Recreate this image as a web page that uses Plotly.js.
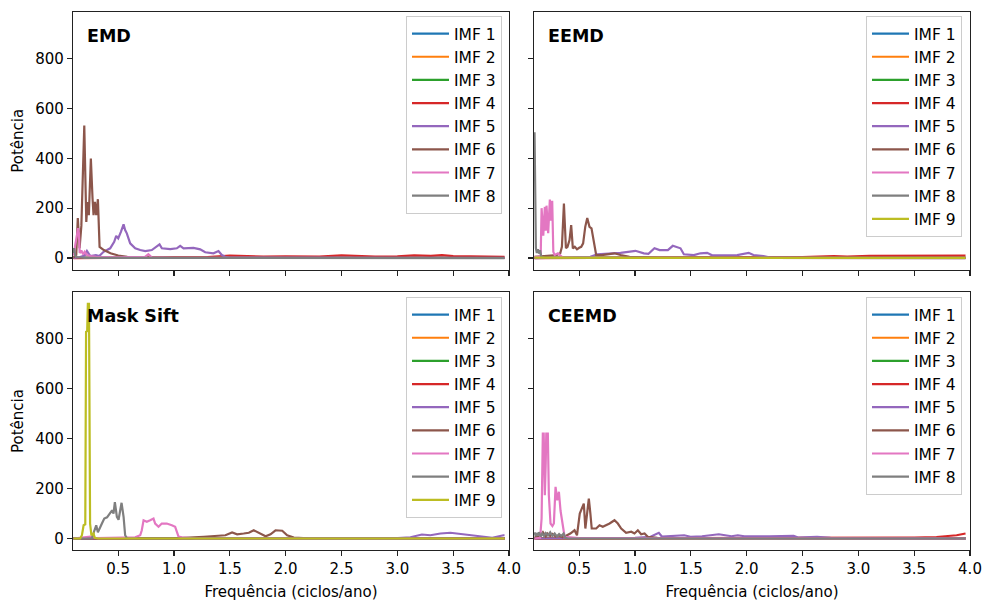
<!DOCTYPE html>
<html>
<head>
<meta charset="utf-8">
<script src="https://cdn.plot.ly/plotly-3.0.1.min.js"></script>
<style>
html,body{margin:0;padding:0;background:#fff;}
#chart{width:990px;height:603px;}
</style>
</head>
<body>
<div id="chart"></div>
<script>
// ---------- tick labels / names ----------
const xTicks = [0.5, 1.0, 1.5, 2.0, 2.5, 3.0, 3.5, 4.0];
const yTicks = [0, 200, 400, 600, 800];
const panelTitles = ["EMD", "EEMD", "Mask Sift", "CEEMD"];
const imfColors = ["#1f77b4", "#ff7f0e", "#2ca02c", "#d62728", "#9467bd", "#8c564b", "#e377c2", "#7f7f7f", "#bcbd22"];

// ---------- near-zero IMFs (shared shape) ----------
const low_f = [0.1, 0.5, 1.0, 2.0, 3.0, 3.96];
const low1_p = [0.5, 0.3, 0.2, 0.2, 0.2, 0.2];
const low2_p = [0.8, 0.5, 0.3, 0.2, 0.2, 0.2];
const low3_p = [1.0, 1.0, 0.5, 0.3, 0.3, 0.3];

// ---------- EMD ----------
const emd_f4 = [0.1, 1.0, 1.3, 1.5, 1.6, 1.8, 2.0, 2.3, 2.5, 2.6, 2.8, 3.0, 3.15, 3.3, 3.4, 3.5, 3.7, 3.96];
const emd_p4 = [0, 1, 4, 10, 8, 6, 7, 6, 11, 9, 6, 7, 11, 9, 12, 8, 6, 5];
const emd_f5 = [0.1, 0.15, 0.2, 0.22, 0.25, 0.3, 0.33, 0.369, 0.428, 0.464, 0.482, 0.50, 0.524, 0.548, 0.562, 0.577, 0.607, 0.652, 0.697, 0.742, 0.801, 0.846, 0.870, 0.891, 0.966, 1.025, 1.055, 1.085, 1.174, 1.234, 1.279, 1.353, 1.398, 1.428, 1.458, 1.5, 2.0, 3.0, 3.96];
const emd_p5 = [0, 3, 10, 28, 8, 12, 8, 25, 39, 65, 89, 79, 105, 135, 112, 99, 59, 39, 32, 28, 32, 45, 55, 39, 36, 39, 49, 39, 41, 35, 23, 19, 28, 12, 5, 2, 1, 0.5, 0.5];
const emd_f6 = [0.1, 0.124, 0.138, 0.154, 0.17, 0.196, 0.214, 0.225, 0.237, 0.255, 0.270, 0.279, 0.291, 0.303, 0.318, 0.333, 0.371, 0.431, 0.5, 0.581, 0.79, 1.0, 2.0, 3.96];
const emd_p6 = [3, 12, 160, 40, 130, 532, 145, 225, 172, 399, 239, 172, 225, 172, 236, 45, 32, 19, 10, 5, 2, 1, 0.5, 0.3];
const emd_f7 = [0.1, 0.11, 0.118, 0.128, 0.14, 0.148, 0.155, 0.17, 0.185, 0.2, 0.22, 0.25, 0.3, 0.5, 0.74, 0.77, 0.8, 1.0, 2.0, 3.96];
const emd_p7 = [10, 30, 60, 85, 120, 100, 20, 30, 15, 25, 12, 8, 5, 3, 5, 15, 3, 1, 0.3, 0.2];
const emd_f8 = [0.1, 0.105, 0.115, 0.13, 0.2, 1.0, 3.96];
const emd_p8 = [20, 40, 10, 3, 0.5, 0, 0];

// ---------- EEMD ----------
const eemd_f4 = [0.1, 1.0, 2.0, 2.5, 2.78, 2.9, 3.1, 3.3, 3.5, 3.7, 3.96];
const eemd_p4 = [0, 1, 2, 4, 8, 6, 9, 9, 10, 10, 10];
const eemd_f5 = [0.1, 0.3, 0.5, 0.6, 0.661, 0.78, 0.87, 1.004, 1.079, 1.12, 1.174, 1.22, 1.294, 1.338, 1.37, 1.407, 1.437, 1.527, 1.586, 1.646, 1.69, 1.795, 1.915, 2.018, 2.06, 2.15, 2.2, 2.5, 3.96];
const eemd_p5 = [0, 3, 5, 5, 15, 19, 21, 29, 19, 17, 39, 32, 32, 49, 45, 39, 15, 12, 19, 21, 11, 12, 12, 21, 12, 8, 3, 1, 0.5];
const eemd_f6 = [0.1, 0.2, 0.3, 0.33, 0.345, 0.363, 0.381, 0.395, 0.413, 0.428, 0.443, 0.46, 0.48, 0.50, 0.518, 0.535, 0.554, 0.572, 0.592, 0.61, 0.631, 0.652, 0.7, 0.816, 0.87, 0.95, 1.2, 2.0, 3.96];
const eemd_p6 = [5, 8, 12, 19, 45, 219, 39, 45, 72, 132, 39, 45, 35, 41, 45, 59, 125, 161, 125, 119, 72, 12, 12, 19, 12, 5, 1, 0.5, 0.5];
const eemd_f7 = [0.1, 0.14, 0.155, 0.163, 0.178, 0.192, 0.2, 0.207, 0.222, 0.237, 0.247, 0.258, 0.268, 0.28, 0.309, 0.35, 0.5, 3.96];
const eemd_p7 = [5, 5, 10, 200, 90, 205, 110, 210, 100, 235, 150, 230, 25, 12, 19, 3, 1, 0];
const eemd_f8 = [0.1, 0.112, 0.12, 0.13, 0.14, 0.15, 0.16, 0.2, 3.96];
const eemd_p8 = [505, 40, 20, 35, 18, 32, 5, 1, 0];
const eemd_f9 = [0.1, 0.5, 1.0, 2.0, 3.0, 3.96];
const eemd_p9 = [2, 1, 0.5, 0.3, 0.3, 0.3];

// ---------- Mask Sift ----------
const ms_f4 = [0.1, 1.0, 2.0, 3.0, 3.96];
const ms_p4 = [0.5, 0.5, 0.3, 0.3, 0.3];
const ms_f5 = [0.1, 1.0, 2.0, 2.966, 3.117, 3.22, 3.296, 3.386, 3.475, 3.594, 3.684, 3.788, 3.85, 3.95, 3.96];
const ms_p5 = [0, 0, 0.5, 1, 5, 16, 13, 20, 23, 17, 13, 5, 3, 13, 13];
const ms_f6 = [0.1, 1.0, 1.267, 1.386, 1.46, 1.52, 1.565, 1.624, 1.67, 1.714, 1.76, 1.82, 1.864, 1.909, 1.969, 2.013, 2.073, 2.2, 3.96];
const ms_p6 = [0, 0.5, 7, 11, 13, 24, 17, 20, 23, 33, 23, 9, 17, 33, 31, 13, 4, 1, 0];
const ms_f7 = [0.1, 0.25, 0.3, 0.577, 0.652, 0.697, 0.711, 0.727, 0.756, 0.786, 0.816, 0.831, 0.861, 0.890, 0.935, 0.98, 1.01, 1.04, 1.07, 1.2, 3.96];
const ms_p7 = [0, 8, 2, 5, 5, 13, 33, 73, 67, 73, 80, 60, 47, 60, 60, 53, 47, 8, 5, 0, 0];
const ms_f8 = [0.1, 0.264, 0.285, 0.303, 0.318, 0.335, 0.354, 0.375, 0.4, 0.424, 0.445, 0.458, 0.470, 0.488, 0.503, 0.518, 0.53, 0.548, 0.562, 0.58, 3.96];
const ms_p8 = [0, 0, 30, 53, 25, 45, 60, 80, 85, 100, 113, 100, 146, 87, 75, 113, 143, 87, 13, 0, 0];
const ms_f9 = [0.1, 0.16, 0.175, 0.19, 0.205, 0.212, 0.222, 0.228, 0.238, 0.248, 0.26, 0.279, 0.29, 0.32, 3.96];
const ms_p9 = [0, 0, 13, 53, 57, 827, 830, 940, 940, 60, 13, 20, 3, 0, 0];

// ---------- CEEMD ----------
const ce_f4 = [0.1, 1.0, 2.0, 3.0, 3.2, 3.5, 3.7, 3.88, 3.96];
const ce_p4 = [0, 0.5, 1, 2, 3, 4, 6, 13, 20];
const ce_f5 = [0.1, 0.5, 1.0, 1.139, 1.213, 1.24, 1.3, 1.378, 1.44, 1.497, 1.6, 1.75, 1.864, 1.92, 1.98, 2.2, 2.42, 2.46, 2.63, 2.75, 3.0, 3.96];
const ce_p5 = [0, 1, 3, 7, 23, 8, 10, 13, 13, 7, 9, 17, 9, 13, 9, 9, 11, 4, 7, 3, 1, 0.5];
const ce_f6 = [0.1, 0.15, 0.175, 0.2, 0.215, 0.24, 0.26, 0.29, 0.32, 0.35, 0.37, 0.398, 0.42, 0.458, 0.48, 0.505, 0.53, 0.541, 0.555, 0.57, 0.586, 0.60, 0.612, 0.652, 0.682, 0.711, 0.742, 0.772, 0.816, 0.846, 0.876, 0.92, 0.966, 0.995, 1.025, 1.055, 1.085, 1.114, 1.2, 2.0, 3.96];
const ce_p6 = [5, 10, 25, 8, 20, 10, 18, 8, 12, 5, 8, 13, 20, 33, 13, 100, 130, 140, 40, 110, 160, 100, 40, 40, 53, 47, 53, 60, 73, 60, 40, 23, 27, 20, 33, 17, 20, 7, 3, 1, 0.5];
const ce_f7 = [0.1, 0.15, 0.163, 0.168, 0.174, 0.182, 0.192, 0.2, 0.205, 0.219, 0.228, 0.243, 0.26, 0.273, 0.288, 0.303, 0.318, 0.333, 0.348, 0.369, 0.5, 1.0, 3.96];
const ce_p7 = [0, 3, 80, 250, 420, 420, 173, 300, 420, 420, 173, 60, 50, 60, 207, 153, 187, 110, 60, 7, 2, 1, 0];
const ce_f8 = [0.1, 0.11, 0.12, 0.13, 0.14, 0.155, 0.17, 0.185, 0.2, 0.22, 0.24, 0.26, 0.28, 0.3, 0.32, 0.34, 0.36, 0.375, 0.4, 3.96];
const ce_p8 = [25, 10, 22, 12, 25, 8, 20, 10, 22, 12, 25, 10, 20, 8, 18, 10, 20, 3, 0, 0];

const panels = [
  [[low_f, low1_p], [low_f, low2_p], [low_f, low3_p], [emd_f4, emd_p4], [emd_f5, emd_p5], [emd_f6, emd_p6], [emd_f7, emd_p7], [emd_f8, emd_p8]],
  [[low_f, low1_p], [low_f, low2_p], [low_f, low3_p], [eemd_f4, eemd_p4], [eemd_f5, eemd_p5], [eemd_f6, eemd_p6], [eemd_f7, eemd_p7], [eemd_f8, eemd_p8], [eemd_f9, eemd_p9]],
  [[low_f, low1_p], [low_f, low2_p], [low_f, low3_p], [ms_f4, ms_p4], [ms_f5, ms_p5], [ms_f6, ms_p6], [ms_f7, ms_p7], [ms_f8, ms_p8], [ms_f9, ms_p9]],
  [[low_f, low1_p], [low_f, low2_p], [low_f, low3_p], [ce_f4, ce_p4], [ce_f5, ce_p5], [ce_f6, ce_p6], [ce_f7, ce_p7], [ce_f8, ce_p8]]
];

const W = 990, H = 603;
const FONT = "DejaVu Sans";
const colX = [[73, 509], [534, 970]];
const rowY = [[12, 269.5], [292, 550]];

const traces = [];
panels.forEach((series, pi) => {
  const ax = pi === 0 ? "" : String(pi + 1);
  series.forEach((s, i) => {
    traces.push({
      type: "scatter", mode: "lines",
      x: s[0], y: s[1],
      name: "IMF " + (i + 1),
      line: {color: imfColors[i], width: 2.2},
      xaxis: "x" + ax, yaxis: "y" + ax,
      legend: "legend" + ax,
      hoverinfo: "skip"
    });
  });
});

const layout = {
  width: W, height: H,
  margin: {l: 0, r: 0, t: 0, b: 0},
  paper_bgcolor: "#fff", plot_bgcolor: "#fff",
  font: {family: FONT, size: 15, color: "#000"},
  showlegend: true,
  annotations: []
};

for (let pi = 0; pi < 4; pi++) {
  const ax = pi === 0 ? "" : String(pi + 1);
  const c = pi % 2, r = Math.floor(pi / 2);
  const xd = [colX[c][0] / W, colX[c][1] / W];
  const yd = [1 - rowY[r][1] / H, 1 - rowY[r][0] / H];
  layout["xaxis" + ax] = {
    domain: xd, anchor: "y" + ax, range: [0.095, 4.0],
    tickvals: xTicks, ticktext: xTicks.map(v => v.toFixed(1)),
    showticklabels: r === 1,
    ticks: "outside", ticklen: 5, tickwidth: 1.2, tickcolor: "#222",
    showline: true, linecolor: "#222", linewidth: 1.2, mirror: true,
    showgrid: false, zeroline: false,
    tickfont: {family: FONT, size: 15, color: "#000"},
    title: r === 1 ? {text: "Frequência (ciclos/ano)", font: {family: FONT, size: 15, color: "#000"}, standoff: 9} : {text: ""}
  };
  layout["yaxis" + ax] = {
    domain: yd, anchor: "x" + ax, range: [-46, 987],
    tickvals: yTicks, ticktext: yTicks.map(String),
    showticklabels: c === 0,
    ticks: "outside", ticklen: 5, tickwidth: 1.2, tickcolor: "#222",
    showline: true, linecolor: "#222", linewidth: 1.2, mirror: true,
    showgrid: false, zeroline: false,
    tickfont: {family: FONT, size: 15, color: "#000"},
    title: c === 0 ? {text: "Potência", font: {family: FONT, size: 15, color: "#000"}, standoff: 8} : {text: ""}
  };
  layout["legend" + ax] = {
    x: (c === 0 ? 502 : 962) / W, y: 1 - (r === 0 ? 16 : 297) / H,
    xanchor: "right", yanchor: "top",
    bgcolor: "rgba(255,255,255,0.8)", bordercolor: "#cccccc", borderwidth: 1,
    font: {family: FONT, size: 15.5, color: "#000"},
    itemwidth: 37,
    traceorder: "normal"
  };
  layout.annotations.push({
    text: "<b>" + panelTitles[pi] + "</b>",
    xref: "paper", yref: "paper",
    x: (colX[c][0] + 12) / W, y: 1 - (rowY[r][0] + 24) / H,
    xanchor: "left", yanchor: "middle", showarrow: false,
    font: {family: FONT, size: 17.5, color: "#000"}
  });
}

Plotly.newPlot("chart", traces, layout, {displayModeBar: false, staticPlot: true});
</script>
</body>
</html>
